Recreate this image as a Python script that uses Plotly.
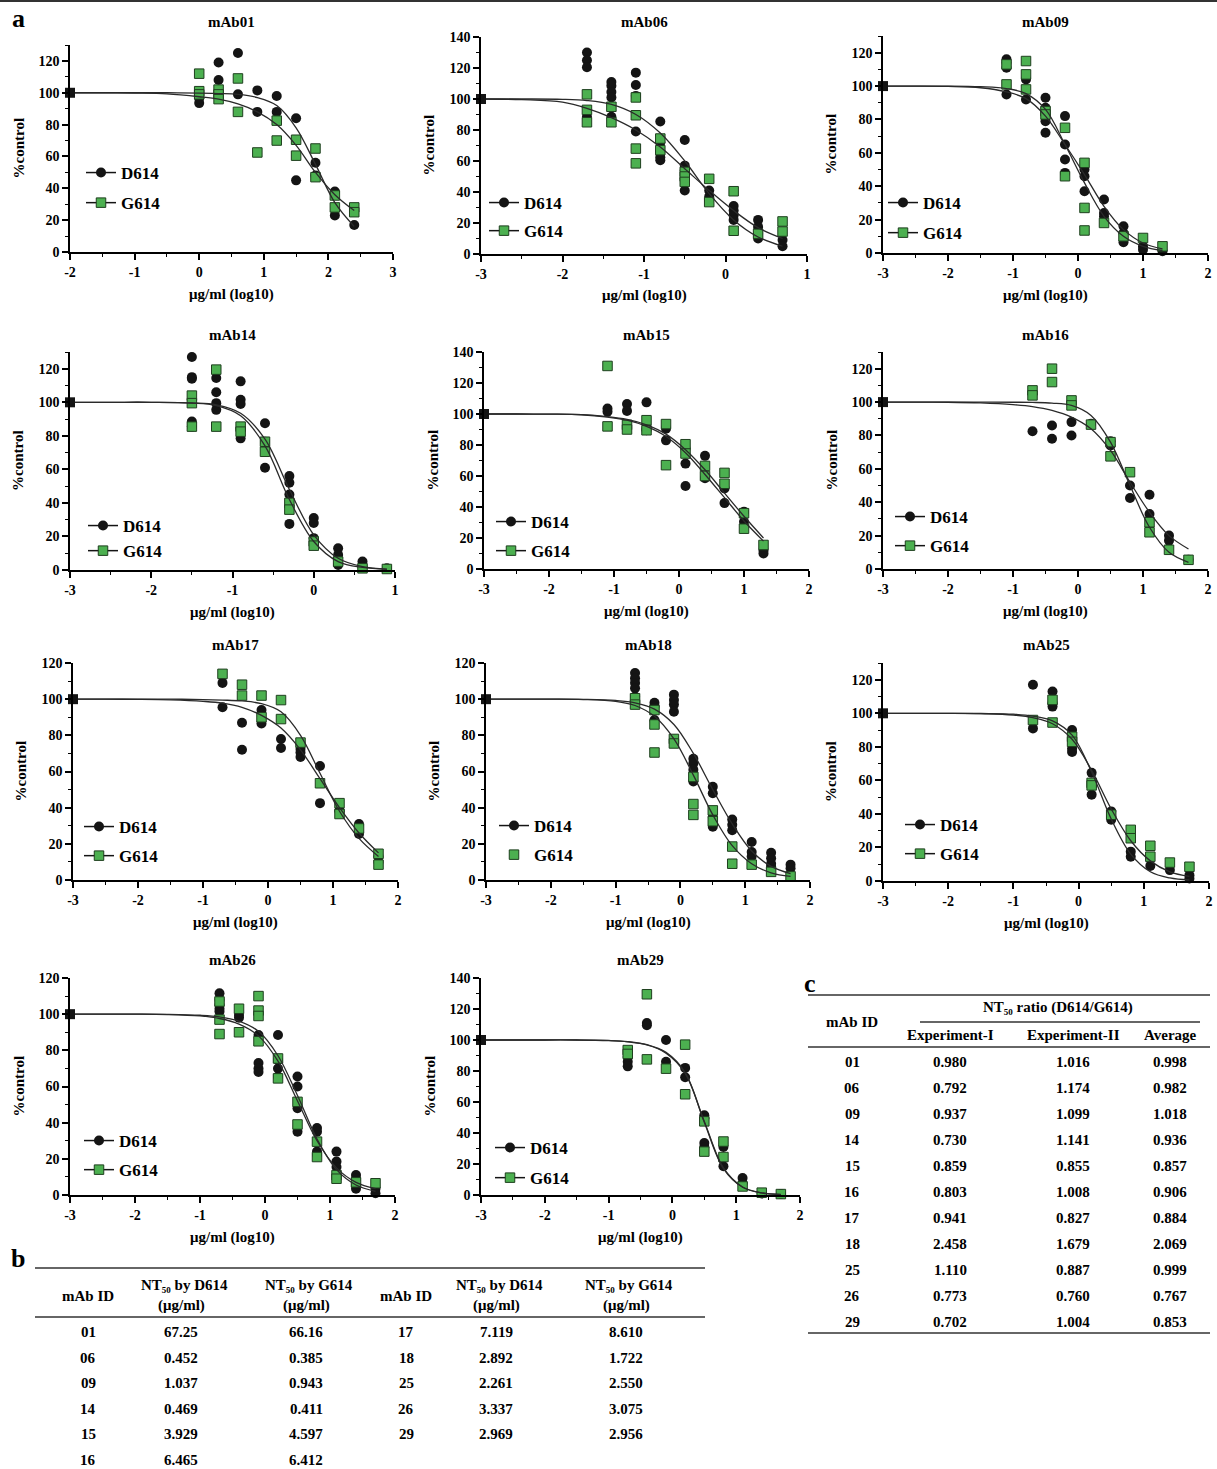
import plotly.graph_objects as go

W, H = 1217, 1469
FONT = "Liberation Serif"

# ---------------- data ----------------
panel_names = ["mAb01", "mAb06", "mAb09", "mAb14", "mAb15", "mAb16",
               "mAb17", "mAb18", "mAb25", "mAb26", "mAb29"]
control_x = [-2, -3, -3, -3, -3, -3, -3, -3, -3, -3, -3]
control_y = [100, 100, 100, 100, 100, 100, 100, 100, 100, 100, 100]

mab01_d_x = [0, 0, 0.3, 0.3, 0.6, 0.6, 0.9, 0.9, 1.2, 1.2, 1.5, 1.5, 1.8, 1.8, 2.1, 2.1, 2.4]
mab01_d_y = [93.5, 96.5, 119, 108, 125, 99, 101.5, 88, 98, 88, 84, 45, 56, 48, 38, 23, 17]
mab01_g_x = [0, 0, 0, 0.3, 0.3, 0.3, 0.6, 0.6, 0.9, 1.2, 1.2, 1.5, 1.5, 1.8, 1.8, 2.1, 2.1, 2.4, 2.4]
mab01_g_y = [112, 101, 99, 102, 99, 96, 109, 88, 62.5, 82.5, 70, 70.5, 60.5, 65, 47, 35.5, 28, 28, 25]
mab01_fit_x = [-2, -1.5, -1, -0.5, 0, 0.3, 0.6, 0.9, 1.2, 1.5, 1.8, 2.1, 2.4]
mab01_fit_d = [100, 100, 100, 100, 99.8, 99.5, 99, 97, 92, 78, 55, 31, 16]
mab01_fit_g = [100, 100, 99.8, 99.3, 97.5, 96, 93, 88, 80, 67, 50, 36, 26]

mab06_d_x = [-1.7, -1.7, -1.7, -1.7, -1.4, -1.4, -1.4, -1.4, -1.4, -1.1, -1.1, -1.1, -1.1,
             -0.8, -0.8, -0.8, -0.8, -0.8, -0.5, -0.5, -0.5, -0.5, -0.5, -0.2, -0.2, -0.2,
             0.1, 0.1, 0.1, 0.1, 0.4, 0.4, 0.4, 0.4, 0.7, 0.7]
mab06_d_y = [130, 125, 120.5, 88.5, 111, 108.5, 104.5, 101, 88.5, 117, 109, 102, 79,
             85.5, 72, 66, 62.5, 60.5, 73.5, 57, 54, 48.5, 41, 41, 37, 35,
             31, 28, 25, 22, 22, 17.5, 13, 10, 9, 5]
mab06_g_x = [-1.7, -1.7, -1.7, -1.4, -1.4, -1.1, -1.1, -1.1, -1.1, -0.8, -0.8,
             -0.5, -0.5, -0.5, -0.2, -0.2, 0.1, 0.1, 0.4, 0.7, 0.7]
mab06_g_y = [103, 93, 85, 95, 85, 101, 89.5, 68, 58.5, 74.5, 67,
             53, 50, 46.5, 48.5, 33.5, 40.5, 15, 13, 21, 14.5]
mab06_fit_x = [-3, -2.5, -2, -1.7, -1.4, -1.1, -0.8, -0.5, -0.2, 0.1, 0.4, 0.7]
mab06_fit_d = [100, 100, 99.8, 99, 96.5, 90, 78, 60, 39, 22, 11, 5]
mab06_fit_g = [100, 99.6, 98, 94, 88, 80, 69, 55, 41, 28, 17, 10]

mab09_d_x = [-1.1, -1.1, -1.1, -1.1, -0.8, -0.8, -0.5, -0.5, -0.5, -0.5, -0.2, -0.2, -0.2, -0.2,
             0.1, 0.1, 0.1, 0.4, 0.4, 0.4, 0.7, 0.7, 0.7, 1.0, 1.0, 1.3]
mab09_d_y = [116, 114, 111, 95, 104, 92, 93, 87, 79, 72, 82, 65, 56, 48,
             50, 46, 37, 32, 24, 22, 16, 12, 6.5, 4, 2, 1]
mab09_g_x = [-1.1, -1.1, -0.8, -0.8, -0.8, -0.5, -0.5, -0.2, -0.2, 0.1, 0.1, 0.1, 0.4, 0.7, 1.0, 1.3]
mab09_g_y = [113, 101, 115, 107, 98, 85, 83, 75, 46, 54, 27, 13.5, 18, 10, 9, 4]
mab09_fit_x = [-3, -2.5, -2, -1.5, -1.1, -0.8, -0.5, -0.2, 0.1, 0.4, 0.7, 1.0, 1.3]
mab09_fit_d = [100, 100, 99.8, 99, 96.5, 92.5, 82, 65, 47, 28, 14, 6, 2.5]
mab09_fit_g = [100, 100, 100, 99.6, 98.5, 95.5, 86, 65, 42, 22, 10, 4, 1.5]

mab14_d_x = [-1.5, -1.5, -1.5, -1.5, -1.5, -1.2, -1.2, -1.2, -1.2, -0.9, -0.9, -0.9, -0.9, -0.9,
             -0.6, -0.6, -0.6, -0.3, -0.3, -0.3, -0.3, 0, 0, 0, 0.3, 0.3, 0.3, 0.6, 0.6, 0.9]
mab14_d_y = [127, 115, 114, 88.5, 85.5, 114.5, 106, 99.5, 95.5, 112.5, 101.5, 99, 84.5, 78.5,
             87.5, 76.5, 61, 56, 52, 45, 27.5, 31, 28, 19, 13, 9, 3, 5, 2, 1]
mab14_g_x = [-1.5, -1.5, -1.5, -1.2, -1.2, -0.9, -0.9, -0.6, -0.6, -0.3, -0.3, 0, 0, 0.3, 0.6, 0.9]
mab14_g_y = [104, 99.5, 85.5, 119.5, 85.5, 85.5, 82.5, 76.5, 70.5, 40, 36, 17, 14.5, 5, 1, 0.6]
mab14_fit_x = [-3, -2.5, -2, -1.5, -1.2, -0.9, -0.6, -0.3, 0, 0.3, 0.6, 0.9]
mab14_fit_d = [100, 100, 100, 99.6, 98.5, 93.5, 78, 48, 21, 7, 2, 0.5]
mab14_fit_g = [100, 100, 100, 99.5, 98, 92, 74, 42, 17, 5, 1.5, 0.4]

mab15_d_x = [-1.1, -1.1, -0.8, -0.8, -0.5, -0.5, -0.5, -0.2, -0.2, 0.1, 0.1, 0.1,
             0.4, 0.4, 0.7, 0.7, 1.0, 1.0, 1.3, 1.3]
mab15_d_y = [103.5, 101.5, 106.5, 102, 107.5, 90.5, 89.5, 90.5, 83, 77.5, 68, 53.5,
             73, 58.5, 52, 42.5, 37, 30.5, 12, 10]
mab15_g_x = [-1.1, -1.1, -0.8, -0.8, -0.5, -0.5, -0.2, -0.2, 0.1, 0.1, 0.4, 0.4, 0.7, 0.7, 1.0, 1.0, 1.3]
mab15_g_y = [131, 92, 93, 90, 96, 89.5, 93.5, 67, 80.5, 74.5, 66.5, 60, 62, 55, 36, 26, 15.5]
mab15_fit_x = [-3, -2.5, -2, -1.5, -1.1, -0.8, -0.5, -0.2, 0.1, 0.4, 0.7, 1.0, 1.3]
mab15_fit_d = [100, 100, 99.9, 99.5, 98, 96, 92, 85.5, 75, 61, 46, 31, 18]
mab15_fit_g = [100, 100, 99.9, 99.6, 98.3, 96.5, 93, 87, 77, 64, 49, 34, 20]

fit_x_std = [-3, -2.5, -2, -1.5, -1, -0.7, -0.4, -0.1, 0.2, 0.5, 0.8, 1.1, 1.4, 1.7]

mab16_d_x = [-0.7, -0.4, -0.4, -0.1, -0.1, 0.2, 0.5, 0.5, 0.8, 0.8, 1.1, 1.1, 1.4, 1.4, 1.7]
mab16_d_y = [82.5, 86, 78, 88, 80, 87, 76.5, 74, 50, 42.5, 44.5, 33, 20, 17, 5.5]
mab16_g_x = [-0.7, -0.7, -0.4, -0.4, -0.1, -0.1, 0.2, 0.5, 0.5, 0.8, 1.1, 1.1, 1.4, 1.7]
mab16_g_y = [107, 104, 120, 112, 101, 98, 86.5, 76, 67.5, 58, 28, 22, 11.5, 5.5]
mab16_fit_d = [100, 100, 99.9, 99.5, 98.5, 97.3, 95, 91, 84, 71, 52, 34, 20, 12]
mab16_fit_g = [100, 100, 100, 100, 99.9, 99.8, 99.4, 98, 92, 76, 50, 25, 10, 4]

mab17_d_x = [-0.7, -0.7, -0.4, -0.4, -0.1, -0.1, 0.2, 0.2, 0.5, 0.5, 0.5, 0.8, 0.8,
             1.1, 1.1, 1.4, 1.4, 1.7, 1.7]
mab17_d_y = [109, 95.5, 87, 72, 94, 86.5, 78, 73, 72.5, 70.5, 68, 63, 42.5,
             38.5, 38, 31, 25.5, 13, 10]
mab17_g_x = [-0.7, -0.4, -0.4, -0.1, -0.1, 0.2, 0.2, 0.5, 0.8, 1.1, 1.1, 1.4, 1.7, 1.7]
mab17_g_y = [114, 108, 102, 102, 90, 99.5, 89, 76, 53.5, 42.5, 36.5, 28.5, 14.5, 8.5]
mab17_fit_d = [100, 100, 99.9, 99.6, 98.8, 97.8, 95.5, 91, 84, 72, 56, 40, 26, 15]
mab17_fit_g = [100, 100, 100, 100, 99.8, 99.5, 99, 97.5, 93, 80, 59, 38, 23, 13]

mab18_d_x = [-0.7, -0.7, -0.7, -0.7, -0.7, -0.7, -0.4, -0.4, -0.4,
             -0.1, -0.1, -0.1, -0.1, -0.1, 0.2, 0.2, 0.2, 0.2, 0.5, 0.5, 0.5, 0.5,
             0.8, 0.8, 0.8, 1.1, 1.1, 1.1, 1.4, 1.4, 1.4, 1.4, 1.7, 1.7]
mab18_d_y = [114.5, 111.5, 109, 106, 101.5, 98.5, 98, 96, 88.5,
             102.5, 99.5, 97, 93, 77.5, 67, 64.5, 61, 54.5, 51.5, 48, 35, 29.5,
             33.5, 30.5, 27.5, 21, 15.5, 13, 15, 12, 9, 7.5, 8.5, 6.5]
mab18_g_x = [-0.7, -0.7, -0.4, -0.4, -0.4, -0.1, -0.1, 0.2, 0.2, 0.2, 0.5, 0.5, 0.8, 0.8, 1.1, 1.4, 1.7]
mab18_g_y = [100.5, 97, 94, 86, 70.5, 78, 75.5, 57, 42, 36, 38.5, 32.5, 18.5, 9, 8.5, 4.5, 2]
mab18_fit_d = [100, 100, 100, 99.9, 99.3, 98, 94.5, 86, 70, 50, 31, 16, 7.5, 3.5]
mab18_fit_g = [100, 100, 100, 99.8, 98.8, 96.5, 90.5, 78, 58, 36, 19, 9, 4, 2]

mab25_d_x = [-0.7, -0.7, -0.4, -0.4, -0.4, -0.1, -0.1, -0.1, 0.2, 0.2, 0.5, 0.5, 0.5,
             0.8, 0.8, 1.1, 1.4, 1.7, 1.7]
mab25_d_y = [117, 91, 113, 106, 104, 90, 79, 77, 64.5, 51.5, 41.5, 38.5, 36.5,
             17.5, 14.5, 9, 6.5, 3.5, 1.5]
mab25_g_x = [-0.7, -0.4, -0.4, -0.1, -0.1, 0.2, 0.2, 0.5, 0.8, 0.8, 1.1, 1.1, 1.4, 1.7]
mab25_g_y = [96, 108, 94.5, 86, 83, 58.5, 57, 39.5, 30.5, 25.5, 21, 14.5, 11, 8.5]
mab25_fit_d = [100, 100, 100, 99.9, 99.5, 98.3, 95.5, 87, 65, 37, 16, 5.5, 1.8, 0.6]
mab25_fit_g = [100, 100, 100, 99.8, 99, 97.4, 93.8, 84.5, 66, 43, 24, 12, 5.5, 2.8]

mab26_d_x = [-0.7, -0.7, -0.7, -0.7, -0.7, -0.4, -0.4, -0.1, -0.1, -0.1, -0.1,
             0.2, 0.2, 0.2, 0.2, 0.5, 0.5, 0.5, 0.5, 0.8, 0.8, 0.8, 0.8,
             1.1, 1.1, 1.1, 1.4, 1.4, 1.4, 1.4, 1.7, 1.7]
mab26_d_y = [111.5, 108, 105, 103, 101.5, 99.5, 98, 88.5, 73, 70, 68,
             88.5, 74.5, 70, 65.5, 65.5, 60, 48, 35, 37, 35, 24, 22.5,
             24, 18.5, 15.5, 11, 9, 5.5, 3.5, 3.5, 1]
mab26_g_x = [-0.7, -0.7, -0.7, -0.4, -0.4, -0.1, -0.1, -0.1, -0.1, 0.2, 0.2,
             0.5, 0.5, 0.8, 0.8, 1.1, 1.1, 1.4, 1.7]
mab26_g_y = [107, 97, 89, 103, 90, 110, 102, 99, 85, 75.5, 64.5,
             51.5, 39, 29.5, 21, 11, 9, 7, 6.5]
mab26_fit_d = [100, 100, 100, 99.9, 99.4, 98.5, 96.2, 90.5, 77, 55, 31, 14, 5.5, 2]
mab26_fit_g = [100, 100, 100, 99.8, 99, 97.6, 94.5, 88, 74, 52, 30, 15, 7, 3.5]

mab29_d_x = [-0.7, -0.7, -0.7, -0.4, -0.4, -0.1, -0.1, 0.2, 0.2, 0.5, 0.5, 0.5, 0.5,
             0.8, 0.8, 1.1, 1.1, 1.4, 1.7]
mab29_d_y = [89, 86, 83, 111, 109.5, 100, 86, 82, 76, 51.5, 49.5, 33.5, 31,
             31, 18.5, 11, 7.5, 1, 0.6]
mab29_g_x = [-0.7, -0.7, -0.4, -0.4, -0.1, 0.2, 0.2, 0.5, 0.5, 0.8, 0.8, 1.1, 1.4, 1.7]
mab29_g_y = [93.5, 91, 129.5, 87.5, 81.5, 97, 65, 47.5, 28, 34.5, 24.5, 5.5, 1.5, 0.6]
mab29_fit_d = [100, 100, 100, 100, 99.7, 99, 97, 92, 79, 47, 17, 5, 1.3, 0.3]
mab29_fit_g = [100, 100, 100, 100, 99.6, 98.8, 96.8, 91.5, 78.5, 47.5, 17.5, 5.2, 1.4, 0.4]

x_tick_vals = [-3, -2, -1, 0, 1, 2, 3]
y_tick_vals = [0, 20, 40, 60, 80, 100, 120, 140]
series_names = ["D614", "G614"]

# table b
tb_ids_left = ["01", "06", "09", "14", "15", "16"]
tb_d614_left = ["67.25", "0.452", "1.037", "0.469", "3.929", "6.465"]
tb_g614_left = ["66.16", "0.385", "0.943", "0.411", "4.597", "6.412"]
tb_ids_right = ["17", "18", "25", "26", "29"]
tb_d614_right = ["7.119", "2.892", "2.261", "3.337", "2.969"]
tb_g614_right = ["8.610", "1.722", "2.550", "3.075", "2.956"]

# table c
tc_ids = ["01", "06", "09", "14", "15", "16", "17", "18", "25", "26", "29"]
tc_exp1 = ["0.980", "0.792", "0.937", "0.730", "0.859", "0.803", "0.941", "2.458", "1.110", "0.773", "0.702"]
tc_exp2 = ["1.016", "1.174", "1.099", "1.141", "0.855", "1.008", "0.827", "1.679", "0.887", "0.760", "1.004"]
tc_avg = ["0.998", "0.982", "1.018", "0.936", "0.857", "0.906", "0.884", "2.069", "0.999", "0.767", "0.853"]

panel_data = [
    (mab01_d_x, mab01_d_y, mab01_g_x, mab01_g_y, mab01_fit_x, mab01_fit_d, mab01_fit_g),
    (mab06_d_x, mab06_d_y, mab06_g_x, mab06_g_y, mab06_fit_x, mab06_fit_d, mab06_fit_g),
    (mab09_d_x, mab09_d_y, mab09_g_x, mab09_g_y, mab09_fit_x, mab09_fit_d, mab09_fit_g),
    (mab14_d_x, mab14_d_y, mab14_g_x, mab14_g_y, mab14_fit_x, mab14_fit_d, mab14_fit_g),
    (mab15_d_x, mab15_d_y, mab15_g_x, mab15_g_y, mab15_fit_x, mab15_fit_d, mab15_fit_g),
    (mab16_d_x, mab16_d_y, mab16_g_x, mab16_g_y, fit_x_std, mab16_fit_d, mab16_fit_g),
    (mab17_d_x, mab17_d_y, mab17_g_x, mab17_g_y, fit_x_std, mab17_fit_d, mab17_fit_g),
    (mab18_d_x, mab18_d_y, mab18_g_x, mab18_g_y, fit_x_std, mab18_fit_d, mab18_fit_g),
    (mab25_d_x, mab25_d_y, mab25_g_x, mab25_g_y, fit_x_std, mab25_fit_d, mab25_fit_g),
    (mab26_d_x, mab26_d_y, mab26_g_x, mab26_g_y, fit_x_std, mab26_fit_d, mab26_fit_g),
    (mab29_d_x, mab29_d_y, mab29_g_x, mab29_g_y, fit_x_std, mab29_fit_d, mab29_fit_g),
]

# ---------------- layout (pixel geometry) ----------------
# x0,x1 axis span px; ybot,ytop px of y-range ends; xr,yr ranges;
# title py, legend D-item centre py, legend item spacing, legend text x, G legend with line?
panel_geom = [
    (70, 393, 252, 45, [-2, 3], [0, 130], 22, 173, 30, 125, True),
    (481, 807, 254, 37, [-3, 1], [0, 140], 22, 203, 28, 528, True),
    (883, 1208, 253, 36, [-3, 2], [0, 130], 22, 203, 30, 927, True),
    (70, 395, 570, 352, [-3, 1], [0, 130], 335, 526, 25, 127, True),
    (484, 809, 569, 352, [-3, 2], [0, 140], 335, 522, 29, 535, True),
    (883, 1208, 569, 352, [-3, 2], [0, 130], 335, 517, 29, 934, True),
    (73, 398, 880, 663, [-3, 2], [0, 120], 645, 827, 29, 123, True),
    (486, 810, 880, 663, [-3, 2], [0, 120], 645, 826, 29, 538, False),
    (883, 1209, 881, 663, [-3, 2], [0, 130], 645, 825, 29, 944, True),
    (70, 395, 1195, 978, [-3, 2], [0, 120], 960, 1141, 29, 123, True),
    (481, 800, 1195, 978, [-3, 2], [0, 140], 960, 1148, 30, 534, True),
]

LEG_FIRST = 18
LEG_BASE = 25


def fx(px):
    return px / W


def fy(py):
    return 1 - py / H


BLACK = "#141414"
GREEN = "#4cb050"
GREEN_EDGE = "#1e3f1e"
CURVE = "#2a2a2a"

fig = go.Figure()
layout_axes = {}
annotations = []
shapes = []

for i, (name, data, geom) in enumerate(zip(panel_names, panel_data, panel_geom)):
    n = i + 1
    sfx = "" if n == 1 else str(n)
    xa, ya = "x" + sfx, "y" + sfx
    leg = "legend" + sfx
    dx, dy, gx, gy, fitx, fitd, fitg = data
    x0, x1, ybot, ytop, xr, yr, tpy, legc, legsp, legtx, g_line = geom

    fig.add_trace(go.Scatter(x=dx, y=dy, mode="markers", xaxis=xa, yaxis=ya,
                             marker=dict(symbol="circle", size=10, color=BLACK),
                             showlegend=False, cliponaxis=False))
    fig.add_trace(go.Scatter(x=gx, y=gy, mode="markers", xaxis=xa, yaxis=ya,
                             marker=dict(symbol="square", size=9.5, color=GREEN,
                                         line=dict(color=GREEN_EDGE, width=1)),
                             showlegend=False, cliponaxis=False))
    for fy_vals in (fitd, fitg):
        fig.add_trace(go.Scatter(x=fitx, y=fy_vals, mode="lines", xaxis=xa, yaxis=ya,
                                 line=dict(color=CURVE, width=1.3, shape="spline", smoothing=1.0),
                                 showlegend=False, hoverinfo="skip", cliponaxis=False))
    fig.add_trace(go.Scatter(x=[control_x[i]], y=[control_y[i]], mode="markers",
                             xaxis=xa, yaxis=ya,
                             marker=dict(symbol="square", size=10, color=BLACK),
                             showlegend=False, cliponaxis=False))
    fig.add_trace(go.Scatter(x=[None], y=[None], mode="lines+markers", xaxis=xa, yaxis=ya,
                             name=series_names[0], legend=leg, legendgroup=f"d{n}",
                             line=dict(color=BLACK, width=1.5),
                             marker=dict(symbol="circle", size=10, color=BLACK)))
    fig.add_trace(go.Scatter(x=[None], y=[None], mode="lines+markers" if g_line else "markers",
                             xaxis=xa, yaxis=ya,
                             name=series_names[1], legend=leg, legendgroup=f"g{n}",
                             line=dict(color=BLACK, width=1.5),
                             marker=dict(symbol="square", size=9.5, color=GREEN,
                                         line=dict(color=GREEN_EDGE, width=1))))

    xt = [v for v in x_tick_vals if xr[0] <= v <= xr[1]]
    yt = [v for v in y_tick_vals if yr[0] <= v <= yr[1]]
    layout_axes["xaxis" + sfx] = dict(
        domain=[fx(x0), fx(x1)], range=xr, anchor=ya, showgrid=False, zeroline=False,
        automargin=False,
        showline=True, linecolor="black", linewidth=1.6, ticks="outside", ticklen=6,
        tickwidth=1.6, tickcolor="black", tickvals=xt,
        ticktext=[f"<b>{v}</b>" for v in xt], ticklabeloverflow="allow",
        minor=dict(dtick=0.5, ticks="outside", ticklen=3, tickwidth=1.2, tickcolor="black"),
        tickfont=dict(family=FONT, size=14, color="black"),
    )
    layout_axes["yaxis" + sfx] = dict(
        domain=[fy(ybot), fy(ytop)], range=yr, anchor=xa, showgrid=False, zeroline=False,
        automargin=False,
        showline=True, linecolor="black", linewidth=1.6, ticks="outside", ticklen=6,
        tickwidth=1.6, tickcolor="black", tickvals=yt,
        ticktext=[f"<b>{v}</b>" for v in yt], ticklabeloverflow="allow",
        minor=dict(dtick=10, ticks="outside", ticklen=3, tickwidth=1.2, tickcolor="black"),
        tickfont=dict(family=FONT, size=14, color="black"),
    )
    layout_axes[leg] = dict(
        x=fx(legtx - 44), y=fy(legc - LEG_FIRST), xanchor="left", yanchor="top",
        bgcolor="rgba(0,0,0,0)", borderwidth=0, tracegroupgap=max(0, legsp - LEG_BASE),
        itemwidth=30,
        font=dict(family=FONT, size=17, color="black", weight="bold"),
    )
    cx = (x0 + x1) / 2
    annotations.append(dict(text=f"<b>{name}</b>", x=fx(cx), y=fy(tpy), xref="paper", yref="paper",
                            showarrow=False, xanchor="center", yanchor="middle",
                            font=dict(family=FONT, size=15, color="black")))
    annotations.append(dict(text="<b>μg/ml (log10)</b>", x=fx(cx), y=fy(ybot + 42), xref="paper",
                            yref="paper", showarrow=False, xanchor="center", yanchor="middle",
                            font=dict(family=FONT, size=15, color="black")))
    annotations.append(dict(text="<b>%control</b>", x=fx(x0 - 52), y=fy((ybot + ytop) / 2),
                            xref="paper", yref="paper", showarrow=False, textangle=-90,
                            xanchor="center", yanchor="middle",
                            font=dict(family=FONT, size=15, color="black")))


def txt(s, px, py, size=15, anchor="center"):
    annotations.append(dict(text=f"<b>{s}</b>", x=fx(px), y=fy(py), xref="paper", yref="paper",
                            showarrow=False, xanchor=anchor, yanchor="middle",
                            font=dict(family=FONT, size=size, color="black")))


def hline(px0, px1, py, w=1.5):
    shapes.append(dict(type="line", xref="paper", yref="paper", x0=fx(px0), x1=fx(px1),
                       y0=fy(py), y1=fy(py), line=dict(color="#333333", width=w)))


txt("a", 18, 18, size=26)
txt("b", 18, 1258, size=26)
txt("c", 810, 983, size=26)
hline(0, W, 1, w=2)

NT50 = "NT\u2085\u2080"

# ---------- table b ----------
b_cols = [88, 181, 306, 406, 496, 626]
hline(35, 705, 1268)
hline(35, 705, 1317)
for k, cx in enumerate(b_cols):
    if k in (0, 3):
        txt("mAb ID", cx, 1296)
    else:
        strain = "D614" if k in (1, 4) else "G614"
        txt(f"{NT50} by {strain}", cx + 3, 1285)
        txt("(μg/ml)", cx, 1305)
for r in range(len(tb_ids_left)):
    py = 1332 + 25.6 * r
    txt(tb_ids_left[r], b_cols[0], py)
    txt(tb_d614_left[r], b_cols[1], py)
    txt(tb_g614_left[r], b_cols[2], py)
for r in range(len(tb_ids_right)):
    py = 1332 + 25.6 * r
    txt(tb_ids_right[r], b_cols[3], py)
    txt(tb_d614_right[r], b_cols[4], py)
    txt(tb_g614_right[r], b_cols[5], py)

# ---------- table c ----------
c_cols = [852, 950, 1073, 1170]
hline(808, 1210, 995)
hline(920, 1200, 1022)
hline(808, 1210, 1047)
hline(808, 1210, 1333)
txt(f"{NT50} ratio (D614/G614)", 1058, 1007)
txt("mAb ID", c_cols[0], 1022)
txt("Experiment-I", c_cols[1], 1035)
txt("Experiment-II", c_cols[2], 1035)
txt("Average", c_cols[3], 1035)
for r in range(len(tc_ids)):
    py = 1062 + 26 * r
    txt(tc_ids[r], c_cols[0], py)
    txt(tc_exp1[r], c_cols[1], py)
    txt(tc_exp2[r], c_cols[2], py)
    txt(tc_avg[r], c_cols[3], py)

fig.update_layout(
    template="none",
    width=W, height=H, autosize=False,
    margin=dict(l=0, r=0, t=0, b=0, pad=0, autoexpand=False),
    paper_bgcolor="white", plot_bgcolor="white",
    font=dict(family=FONT, color="black"),
    annotations=annotations, shapes=shapes,
    **layout_axes,
)

fig.write_html("out.html", config={"displayModeBar": False},
               post_script="document.body.style.margin='0';document.body.style.overflow='hidden';")
